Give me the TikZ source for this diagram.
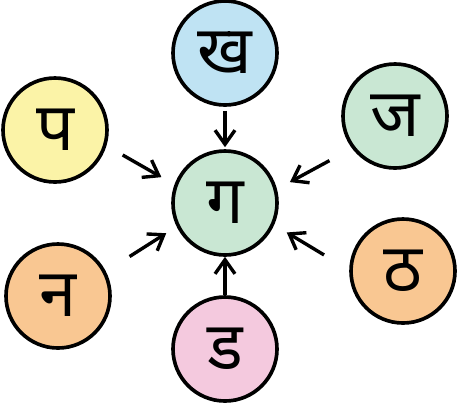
\documentclass[tikz,border=0pt]{standalone}
\usepackage{fontspec}
\newfontfamily\dev[Script=Devanagari]{Noto Sans}
\usetikzlibrary{arrows.meta}
\definecolor{skyfill}{RGB}{191,227,243}
\definecolor{mintfill}{RGB}{201,231,211}
\definecolor{lemonfill}{RGB}{251,243,167}
\definecolor{peachfill}{RGB}{249,199,146}
\definecolor{pinkfill}{RGB}{244,201,222}

\begin{document}
\begin{tikzpicture}[x=0.03cm,y=-0.03cm,
  letter/.style={circle,draw,line width=3.1pt,minimum size=3.12cm,inner sep=0pt,
    font=\dev\fontsize{57}{66}\selectfont},
  arr/.style={line width=2.9pt,-{Straight Barb[length=12pt,width=17pt]}}]
\useasboundingbox (0,0) rectangle (457,407);
% letters
\node[letter,fill=mintfill] (ga) at (225,203) {ग};
\node[letter,fill=skyfill] (kha) at (225,53) {ख};
\node[letter,fill=lemonfill] (pa) at (55,130) {प};
\node[letter,fill=mintfill] (ja) at (395,116) {ज};
\node[letter,fill=peachfill] (na) at (58,296) {न};
\node[letter,fill=peachfill] (tha) at (403,271) {ठ};
\node[letter,fill=pinkfill] (da) at (225,349) {ड};
% arrows
\draw[arr,shorten <=0.12cm,shorten >=0.06cm] (kha) -- (ga);
\draw[arr,shorten <=0.56cm,shorten >=0.45cm] (pa.343) -- (ga.160);
\draw[arr,shorten <=0.77cm,shorten >=0.44cm] (ja.217) -- (ga.15);
\draw[arr,shorten <=0.84cm,shorten >=0.37cm] (na.27) -- (ga.206);
\draw[arr,shorten <=0.88cm,shorten >=0.44cm] (tha.179) -- (ga.336);
\draw[arr] (da) -- (ga);
\end{tikzpicture}
\end{document}
